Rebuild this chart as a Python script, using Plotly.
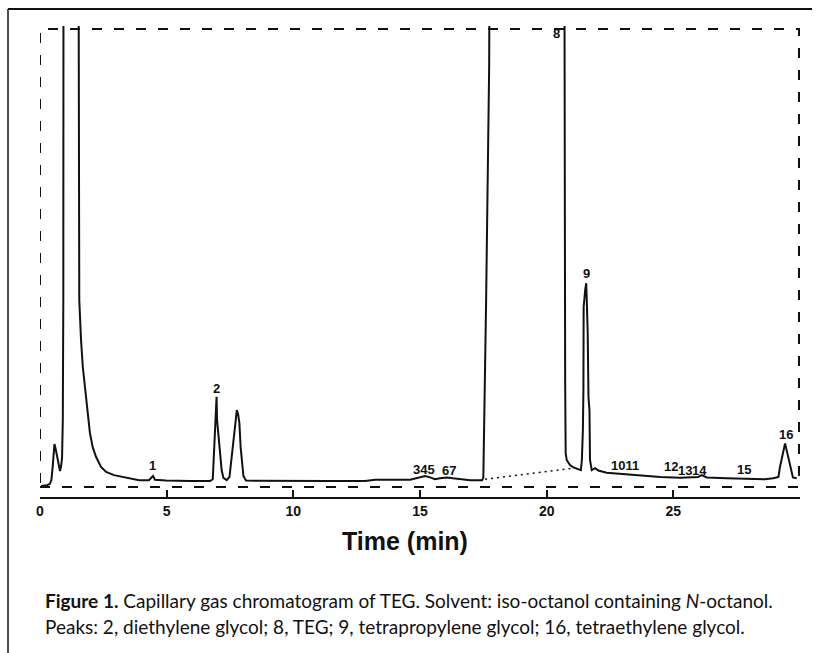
import plotly.graph_objects as go

# Chromatogram trace (time in min, detector signal in % of full scale; >100 = off-scale)
time_min = [0.04, 0.28, 0.39, 0.45, 0.50, 0.54, 0.57, 0.61, 0.66, 0.74, 0.79, 0.83, 0.87, 0.90, 0.92,
            0.93, 1.51, 1.55, 1.58, 1.62, 1.69, 1.79, 1.88, 1.97, 2.08, 2.21, 2.41, 2.61, 2.92, 3.40,
            3.91, 4.30, 4.40, 4.46, 4.54, 4.97, 5.92, 6.71, 6.82, 6.87, 6.91, 6.95, 6.97, 6.99, 7.08,
            7.17, 7.24, 7.37, 7.48, 7.61, 7.70, 7.77, 7.82, 7.87, 7.92, 8.03, 8.13, 9.47, 11.45, 12.83,
            13.23, 14.61, 14.87, 15.00, 15.20, 15.40, 15.59, 15.79, 16.06, 16.30, 16.58, 16.98, 17.45,
            17.50, 17.61, 17.73, 17.77, 20.69, 20.73, 20.75, 20.79, 20.92, 21.05, 21.25, 21.35, 21.39,
            21.43, 21.45, 21.46, 21.52, 21.56, 21.58, 21.62, 21.65, 21.69, 21.71, 21.78, 21.91, 22.04,
            22.37, 23.02, 23.69, 24.48, 25.27, 25.98, 26.12, 26.32, 27.11, 28.03, 28.62, 28.94, 29.15,
            29.21, 29.32, 29.41, 29.50, 29.61, 29.72, 29.87]
signal = [0.2, 0.4, 0.7, 1.5, 4.4, 8.1, 9.4, 8.5, 7.0, 4.8, 3.5, 4.4, 6.3, 14.6, 40.8,
          150, 150, 40.8, 36.5, 32.1, 26.2, 21.2, 16.2, 11.8, 8.7, 6.6, 4.4, 3.3, 2.6, 2.0,
          1.5, 1.5, 2.0, 2.4, 1.6, 1.4, 1.3, 1.3, 1.7, 8.7, 14.6, 19.0, 19.7, 14.6, 8.7,
          3.7, 2.0, 1.5, 2.2, 8.7, 14.0, 16.8, 15.9, 14.0, 8.7, 2.4, 1.4, 1.3, 1.3, 1.3,
          1.6, 1.6, 2.0, 2.2, 2.4, 2.1, 1.7, 1.9, 2.1, 1.9, 1.7, 1.5, 1.5,
          2.0, 40.8, 91.7, 150, 150, 23.4, 7.4, 5.9, 4.8, 4.3, 3.9, 3.7, 5.9,
          12.4, 21.2, 39.3, 43.0, 44.5, 41.5, 33.6, 19.7, 16.8, 5.9, 3.7, 4.1, 3.6,
          3.1, 2.8, 2.6, 2.2, 2.0, 2.2, 2.6, 2.1, 1.9, 1.7, 1.7, 1.9, 2.2,
          4.4, 7.4, 9.5, 7.4, 4.4, 2.1, 1.9]

# Integrator baseline (dotted) under the TEG peak
baseline_time = [17.57, 21.00]
baseline_signal = [1.7, 4.1]

# Peak labels
peak_labels = ["1", "2", "345", "67", "8", "9", "1011", "12", "13", "14", "15", "16"]
peak_label_time = [4.46, 6.95, 15.16, 16.15, 20.37, 21.56, 23.08, 24.91, 25.46, 26.02, 27.79, 29.45]
peak_label_signal = [4.8, 21.6, 3.9, 3.7, 99.1, 46.7, 4.8, 4.4, 3.7, 3.5, 3.9, 11.4]

tick_values = [0, 5, 10, 15, 20, 25]
tick_text = ["0", "5", "10", "15", "20", "25"]

x_title = "Time (min)"
caption_1 = "<b>Figure 1.</b> Capillary gas chromatogram of TEG. Solvent: iso-octanol containing <i>N</i>-octanol."
caption_2 = "Peaks: 2, diethylene glycol; 8, TEG; 9, tetrapropylene glycol; 16, tetraethylene glycol."

ink = "#111111"

fig = go.Figure()
fig.add_trace(go.Scatter(x=time_min, y=signal, mode="lines",
                         line=dict(color=ink, width=2), hoverinfo="skip", showlegend=False))
fig.add_trace(go.Scatter(x=baseline_time, y=baseline_signal, mode="lines",
                         line=dict(color=ink, width=1.6, dash="2px,4px"), hoverinfo="skip", showlegend=False))

annotations = []
for lab, t, s in zip(peak_labels, peak_label_time, peak_label_signal):
    annotations.append(dict(x=t, y=s, xref="x", yref="y", text=lab, showarrow=False,
                            xanchor="center", yanchor="middle",
                            font=dict(family="Liberation Sans", size=13, color=ink, weight="bold")))

annotations.append(dict(x=0.4803, y=-0.0934, xref="paper", yref="paper", text=x_title, showarrow=False,
                        xanchor="center", yanchor="middle",
                        font=dict(family="Liberation Sans", size=25, color=ink, weight="bold")))
annotations.append(dict(x=0.0039, y=-0.2208, xref="paper", yref="paper", text=caption_1, showarrow=False,
                        xanchor="left", yanchor="middle",
                        font=dict(family="Lato", size=19, color=ink)))
annotations.append(dict(x=0.0039, y=-0.276, xref="paper", yref="paper", text=caption_2, showarrow=False,
                        xanchor="left", yanchor="middle",
                        font=dict(family="Lato", size=19, color=ink)))

shapes = [
    # dashed recorder frame
    dict(type="rect", xref="x", yref="y", x0=0, x1=29.96, y0=0, y1=100,
         line=dict(color=ink, width=2, dash="10px,12px"), layer="below"),
    # outer figure frame (top and left)
    dict(type="line", xref="paper", yref="paper", x0=-0.0421, x1=1.0158, y0=1.0361, y1=1.0361,
         line=dict(color=ink, width=2)),
    dict(type="line", xref="paper", yref="paper", x0=-0.0421, x1=-0.0421, y0=1.0361, y1=-0.3312,
         line=dict(color=ink, width=1.5)),
]

fig.update_layout(
    width=816, height=653,
    margin=dict(l=40, r=16, t=26, b=156, pad=0),
    paper_bgcolor="white", plot_bgcolor="white",
    annotations=annotations, shapes=shapes,
    xaxis=dict(range=[0, 30], showgrid=False, zeroline=False, showline=True, linecolor=ink, linewidth=2,
               ticks="inside", ticklen=7, tickwidth=1.5, tickcolor=ink,
               tickvals=tick_values, ticktext=tick_text,
               tickfont=dict(family="Liberation Sans", size=14, color=ink, weight="bold")),
    yaxis=dict(range=[-2.18, 100.66], visible=False, showgrid=False, zeroline=False),
)

fig.write_html("out.html", config={"displayModeBar": False},
               post_script="document.body.style.margin='0';")
